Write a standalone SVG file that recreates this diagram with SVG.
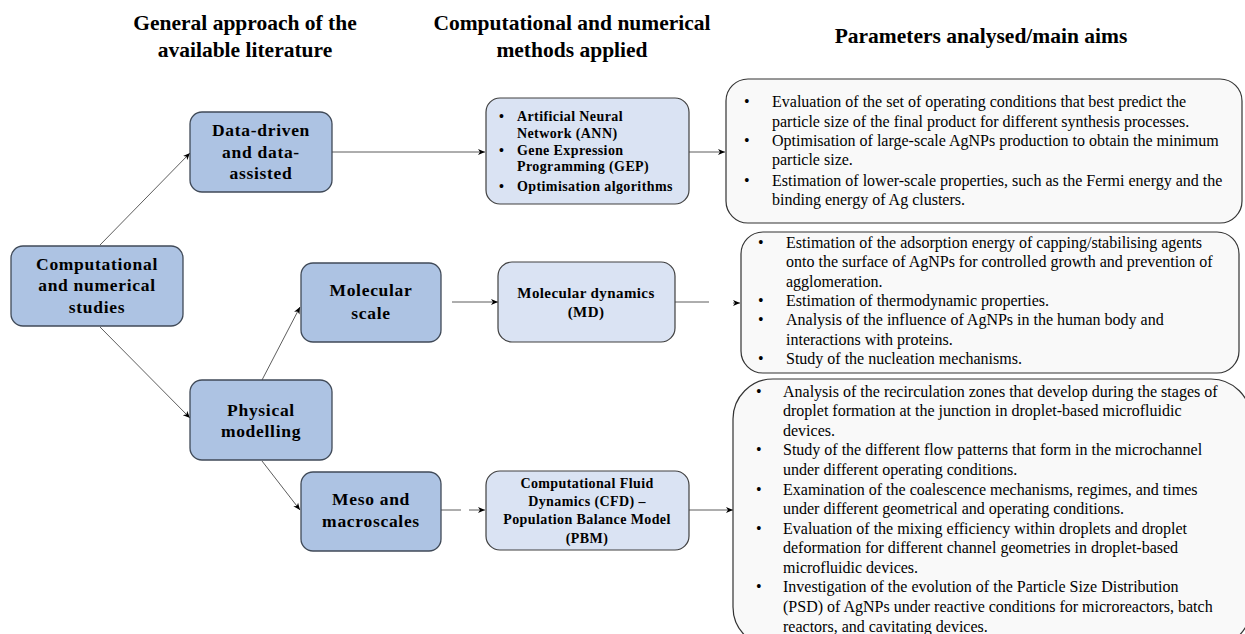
<svg xmlns="http://www.w3.org/2000/svg" width="1245" height="634" viewBox="0 0 1245 634">
<defs>
<marker id="ah" markerWidth="8" markerHeight="8" refX="7" refY="4" orient="auto" markerUnits="userSpaceOnUse">
<path d="M0,1 L7,4 L0,7 L2,4 Z" fill="#000"/>
</marker>
</defs>
<style>
text{font-family:"Liberation Serif","Times New Roman","DejaVu Serif",serif}
.hd{font-weight:bold;font-size:21.5px;fill:#000;text-anchor:middle}
.nd rect{fill:#adc3e3;stroke:#404a58;stroke-width:1.3}
.nd text{font-weight:bold;font-size:17.5px;letter-spacing:0.7px;fill:#000;text-anchor:middle}
.md rect{fill:#dae3f3;stroke:#404040;stroke-width:1.2}
.md text{font-weight:bold;font-size:14px;letter-spacing:0.4px;fill:#000}
.am rect{fill:#f9f9f9;stroke:#333;stroke-width:1.2}
.am text{font-size:16px;fill:#000}
.cn path{fill:none;stroke:#333;stroke-width:0.8}
</style>
<rect width="1245" height="634" fill="#fff"/>

<g id="headers">
<text class="hd" x="245" y="30">General approach of the</text>
<text class="hd" x="245" y="57">available literature</text>
<text class="hd" x="572" y="30">Computational and numerical</text>
<text class="hd" x="572" y="57">methods applied</text>
<text class="hd" x="981" y="43">Parameters analysed/main aims</text>
</g>

<g id="connectors" class="cn">
<path d="M100,245 L190,153" marker-end="url(#ah)"/>
<path d="M100,327 L190,418" marker-end="url(#ah)"/>
<path d="M262,380 L300,307" marker-end="url(#ah)"/>
<path d="M262,461 L300,510" marker-end="url(#ah)"/>
<path d="M332,152 H485" marker-end="url(#ah)"/>
<path d="M689,152 H725" marker-end="url(#ah)"/>
<path d="M452,302 H498" marker-end="url(#ah)"/>
<path d="M675,302 H709"/>
<path d="M733,303 H740" marker-end="url(#ah)"/>
<path d="M441,510 H461"/>
<path d="M469,510 H485" marker-end="url(#ah)"/>
<path d="M689,510 H733" marker-end="url(#ah)"/>
</g>

<g id="n-comp" class="nd">
<rect x="11" y="246" width="172" height="80" rx="12"/>
<text x="97" y="270">Computational</text>
<text x="97" y="291">and numerical</text>
<text x="97" y="313">studies</text>
</g>
<g id="n-data" class="nd">
<rect x="190" y="112" width="142" height="80" rx="12"/>
<text x="261" y="136">Data-driven</text>
<text x="261" y="158">and data-</text>
<text x="261" y="179">assisted</text>
</g>
<g id="n-mol" class="nd">
<rect x="301" y="263" width="140" height="79" rx="12"/>
<text x="371" y="296">Molecular</text>
<text x="371" y="319">scale</text>
</g>
<g id="n-phys" class="nd">
<rect x="190" y="380" width="142" height="80" rx="12"/>
<text x="261" y="416">Physical</text>
<text x="261" y="437">modelling</text>
</g>
<g id="n-meso" class="nd">
<rect x="301" y="472" width="140" height="79" rx="12"/>
<text x="371" y="505">Meso and</text>
<text x="371" y="527">macroscales</text>
</g>

<g id="m-ann" class="md">
<rect x="486" y="98" width="203" height="106" rx="14"/>
<text x="499" y="121">•</text><text x="517" y="121">Artificial Neural</text>
<text x="517" y="138">Network (ANN)</text>
<text x="499" y="155">•</text><text x="517" y="155">Gene Expression</text>
<text x="517" y="171">Programming (GEP)</text>
<text x="499" y="191">•</text><text x="517" y="191">Optimisation algorithms</text>
</g>
<g id="m-md" class="md">
<rect x="498" y="262" width="177" height="80" rx="14"/>
<text x="586" y="298" text-anchor="middle" style="font-size:15px">Molecular dynamics</text>
<text x="586" y="317" text-anchor="middle" style="font-size:15px">(MD)</text>
</g>
<g id="m-cfd" class="md">
<rect x="486" y="471" width="203" height="79" rx="14"/>
<text x="587" y="488" text-anchor="middle">Computational Fluid</text>
<text x="587" y="506" text-anchor="middle">Dynamics (CFD) –</text>
<text x="587" y="524" text-anchor="middle">Population Balance Model</text>
<text x="587" y="543" text-anchor="middle">(PBM)</text>
</g>

<g id="a-data" class="am">
<rect x="726" y="79" width="516" height="144" rx="22"/>
<text x="744" y="107">•</text><text x="772" y="107">Evaluation of the set of operating conditions that best predict the</text>
<text x="772" y="127">particle size of the final product for different synthesis processes.</text>
<text x="744" y="146">•</text><text x="772" y="146">Optimisation of large-scale AgNPs production to obtain the minimum</text>
<text x="772" y="165">particle size.</text>
<text x="744" y="186">•</text><text x="772" y="186">Estimation of lower-scale properties, such as the Fermi energy and the</text>
<text x="772" y="205">binding energy of Ag clusters.</text>
</g>
<g id="a-mol" class="am">
<rect x="741" y="232" width="498" height="141" rx="22"/>
<text x="758" y="248">•</text><text x="786" y="248">Estimation of the adsorption energy of capping/stabilising agents</text>
<text x="786" y="267">onto the surface of AgNPs for controlled growth and prevention of</text>
<text x="786" y="287">agglomeration.</text>
<text x="758" y="306">•</text><text x="786" y="306">Estimation of thermodynamic properties.</text>
<text x="758" y="325">•</text><text x="786" y="325">Analysis of the influence of AgNPs in the human body and</text>
<text x="786" y="345">interactions with proteins.</text>
<text x="758" y="364">•</text><text x="786" y="364">Study of the nucleation mechanisms.</text>
</g>
<g id="a-meso" class="am">
<rect x="733" y="379" width="518" height="268" rx="40"/>
<text x="756" y="397">•</text><text x="783" y="397">Analysis of the recirculation zones that develop during the stages of</text>
<text x="783" y="416">droplet formation at the junction in droplet-based microfluidic</text>
<text x="783" y="436">devices.</text>
<text x="756" y="455">•</text><text x="783" y="455">Study of the different flow patterns that form in the microchannel</text>
<text x="783" y="475">under different operating conditions.</text>
<text x="756" y="495">•</text><text x="783" y="495">Examination of the coalescence mechanisms, regimes, and times</text>
<text x="783" y="514">under different geometrical and operating conditions.</text>
<text x="756" y="534">•</text><text x="783" y="534">Evaluation of the mixing efficiency within droplets and droplet</text>
<text x="783" y="553">deformation for different channel geometries in droplet-based</text>
<text x="783" y="573">microfluidic devices.</text>
<text x="756" y="592">•</text><text x="783" y="592">Investigation of the evolution of the Particle Size Distribution</text>
<text x="783" y="612">(PSD) of AgNPs under reactive conditions for microreactors, batch</text>
<text x="783" y="632">reactors, and cavitating devices.</text>
</g>
</svg>
